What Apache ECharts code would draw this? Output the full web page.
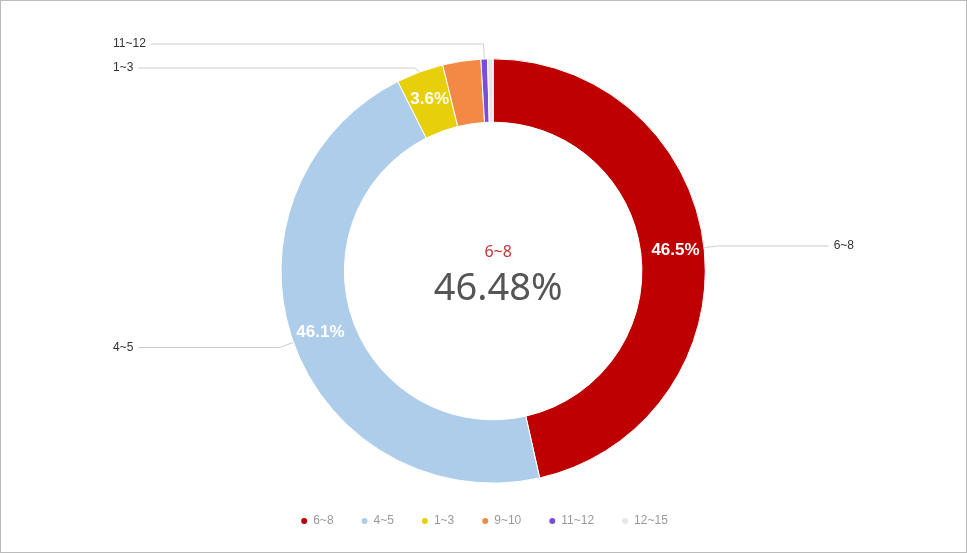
<!DOCTYPE html>
<html>
<head>
<meta charset="utf-8">
<script src="https://cdn.jsdelivr.net/npm/echarts@6/dist/echarts.min.js"></script>
<style>
html, body { margin: 0; padding: 0; background: #fff; }
#chart { width: 965px; height: 551px; border: 1px solid #bbb; }
</style>
</head>
<body>
<div id="chart"></div>
<script>
// categories and shares (%)
var names = ['6~8', '4~5', '1~3', '9~10', '11~12', '12~15'];
var values = [46.48, 46.1, 3.6, 2.9, 0.5, 0.42];
var colors = ['#bf0000', '#aecdeb', '#e8cf0c', '#f28a45', '#7b4ddb', '#e6e6e6'];
var outsideLabel = [true, true, true, false, true, false];

function init() {
    var chart = echarts.init(document.getElementById('chart'));

    var innerData = [];
    var outerData = [];
    for (var i = 0; i < names.length; i++) {
        innerData.push({
            name: names[i], value: values[i],
            itemStyle: { color: colors[i] },
            label: { show: values[i] >= 3 }
        });
        outerData.push({
            name: names[i], value: values[i],
            label: { show: outsideLabel[i] },
            labelLine: { show: outsideLabel[i] }
        });
    }

    var option = {
        color: colors,
        title: {
            text: '6~8',
            subtext: '46.48%',
            left: '51%',
            top: 238,
            textAlign: 'center',
            itemGap: 10,
            textStyle: { color: '#c0393b', fontSize: 16, fontWeight: 'normal', fontFamily: 'Noto Sans' },
            subtextStyle: { color: '#555', fontSize: 38, fontFamily: 'Noto Sans' }
        },
        legend: {
            bottom: 20,
            icon: 'circle',
            itemWidth: 8,
            itemHeight: 8,
            itemGap: 26,
            textStyle: { color: '#999', fontSize: 12 },
            data: names
        },
        series: [{
            type: 'pie',
            center: ['51%', '49%'],
            radius: ['54%', '77%'],
            startAngle: 90,
            itemStyle: { borderColor: '#fff', borderWidth: 1 },
            label: {
                position: 'inside',
                formatter: function (p) { return p.value.toFixed(1) + '%'; },
                color: '#fff',
                fontSize: 17,
                fontWeight: 'bold'
            },
            labelLine: { show: false },
            data: innerData
        }, {
            type: 'pie',
            center: ['51%', '49%'],
            radius: ['54%', '77%'],
            startAngle: 90,
            silent: true,
            itemStyle: { color: 'rgba(0,0,0,0)' },
            label: {
                position: 'outer',
                alignTo: 'edge',
                edgeDistance: 112,
                color: '#333',
                fontSize: 12,
                lineHeight: 22,
                formatter: '{b}'
            },
            labelLine: { length: 15, length2: 10, lineStyle: { color: '#ccc' } },
            data: outerData
        }]
    };
    chart.setOption(option);
}

window.addEventListener('load', init, false);
</script>
</body>
</html>
